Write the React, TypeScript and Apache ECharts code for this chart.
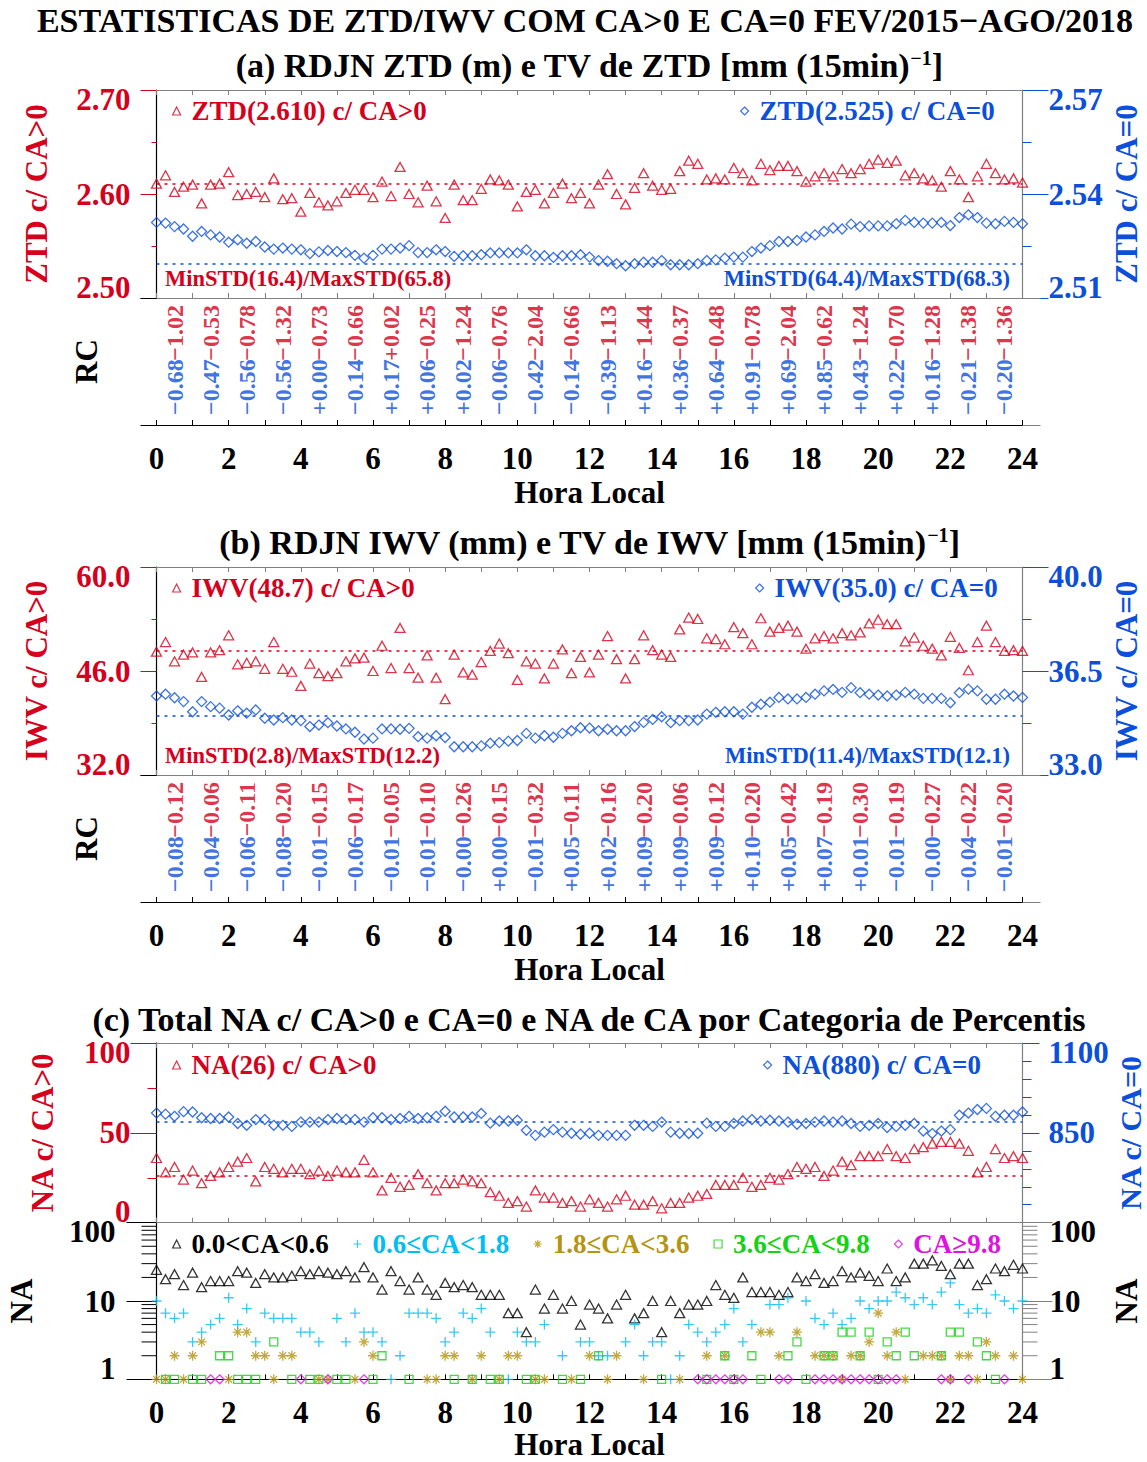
import React, { useEffect, useRef } from 'react';
import * as echarts from 'echarts';

const W = 1147;
const H = 1462;
const FONT = 'Liberation Serif';
const RED = '#d6001c';
const BLUE = '#0b4fdb';
const CYAN = '#00bdf2';
const OLIVE = '#b39510';
const GREEN = '#14d214';
const MAGENTA = '#e012e0';
const BLACK = '#000000';
const GRAY = '#808080';

// x positions: every 15 min from 0 to 24 h; RC values at the middle of each hour
const HOURS = Array.from({ length: 97 }, (_, i) => i / 4);
const RC_HOURS = Array.from({ length: 24 }, (_, i) => i + 0.5);
const LOG_MINOR_TICKS = [2, 3, 4, 5, 6, 7, 8, 9, 20, 30, 40, 50, 60, 70, 80, 90];

// ---------- (a) ZTD ----------
const ztdMeans = [2.610, 2.525];
const ztdStd = [[16.4, 65.8], [64.4, 68.3]];
const ztdGt = [
  2.610, 2.618, 2.602, 2.607, 2.609, 2.591, 2.609, 2.610,
  2.621, 2.599, 2.600, 2.602, 2.597, 2.615, 2.595, 2.596,
  2.583, 2.601, 2.592, 2.589, 2.593, 2.601, 2.604, 2.604,
  2.597, 2.612, 2.598, 2.626, 2.600, 2.592, 2.608, 2.593,
  2.577, 2.609, 2.594, 2.594, 2.605, 2.614, 2.613, 2.609,
  2.588, 2.602, 2.604, 2.591, 2.601, 2.610, 2.596, 2.601,
  2.591, 2.609, 2.619, 2.600, 2.590, 2.606, 2.620, 2.608,
  2.604, 2.605, 2.622, 2.632, 2.629, 2.614, 2.615, 2.614,
  2.625, 2.620, 2.613, 2.629, 2.623, 2.627, 2.627, 2.622,
  2.612, 2.617, 2.620, 2.617, 2.624, 2.620, 2.624, 2.629,
  2.633, 2.630, 2.632, 2.618, 2.620, 2.615, 2.613, 2.607,
  2.622, 2.614, 2.597, 2.617, 2.629, 2.620, 2.614, 2.615,
  2.611,
];
const ztdEq = [
  2.5318, 2.5316, 2.5306, 2.5299, 2.5278, 2.5292, 2.5282, 2.5276,
  2.5261, 2.5268, 2.5258, 2.5263, 2.5247, 2.5241, 2.5244, 2.5241,
  2.5239, 2.5228, 2.5233, 2.5237, 2.5234, 2.5231, 2.5223, 2.5215,
  2.5223, 2.5241, 2.5241, 2.5244, 2.5251, 2.5231, 2.5231, 2.5239,
  2.5234, 2.5220, 2.5222, 2.5222, 2.5225, 2.5230, 2.5230, 2.5230,
  2.5230, 2.5239, 2.5222, 2.5222, 2.5217, 2.5222, 2.5222, 2.5225,
  2.5218, 2.5208, 2.5206, 2.5199, 2.5193, 2.5199, 2.5203, 2.5203,
  2.5208, 2.5196, 2.5196, 2.5196, 2.5199, 2.5208, 2.5210, 2.5215,
  2.5218, 2.5218, 2.5234, 2.5244, 2.5251, 2.5263, 2.5263, 2.5266,
  2.5276, 2.5282, 2.5292, 2.5302, 2.5299, 2.5313, 2.5306, 2.5308,
  2.5308, 2.5308, 2.5314, 2.5324, 2.5318, 2.5316, 2.5316, 2.5318,
  2.5309, 2.5332, 2.5340, 2.5332, 2.5316, 2.5314, 2.5321, 2.5318,
  2.5314,
];
const rcZtdGt = [-1.02, -0.53, -0.78, -1.32, -0.73, -0.66, 0.02, -0.25, -1.24, -0.76, -2.04, -0.66,
  -1.13, -1.44, -0.37, -0.48, -0.78, -2.04, -0.62, -1.24, -0.70, -1.28, -1.38, -1.36];
const rcZtdEq = [-0.68, -0.47, -0.56, -0.56, 0.00, -0.14, 0.17, 0.06, 0.02, -0.06, -0.42, -0.14,
  -0.39, 0.16, 0.36, 0.64, 0.91, 0.69, 0.85, 0.43, 0.22, 0.16, -0.21, -0.20];

// ---------- (b) IWV ----------
const iwvMeans = [48.7, 35.0];
const iwvStd = [[2.8, 12.2], [11.4, 12.1]];
const iwvGt = [
  48.6, 49.9, 47.3, 48.2, 48.5, 45.2, 48.5, 48.8,
  50.8, 46.9, 47.1, 47.3, 46.3, 49.9, 46.3, 45.9,
  44.0, 47.0, 45.7, 45.3, 45.7, 47.3, 47.7, 47.8,
  46.0, 49.4, 46.4, 51.8, 46.4, 45.1, 48.1, 45.1,
  42.2, 48.2, 45.8, 45.5, 47.2, 48.7, 49.7, 48.4,
  44.8, 47.3, 47.0, 45.0, 47.0, 48.9, 45.7, 47.9,
  45.8, 48.2, 50.7, 47.6, 45.0, 47.6, 50.8, 48.8,
  48.2, 47.9, 51.6, 53.2, 53.0, 50.4, 50.3, 49.6,
  51.9, 51.1, 49.6, 53.1, 51.3, 51.8, 52.1, 51.3,
  49.0, 50.4, 50.7, 50.4, 51.1, 50.8, 51.2, 52.4,
  52.9, 52.3, 52.3, 50.0, 50.5, 49.4, 49.0, 48.1,
  50.6, 49.1, 46.1, 49.9, 52.1, 49.9, 48.7, 48.8,
  48.7,
];
const iwvEq = [
  35.66, 35.72, 35.60, 35.47, 35.13, 35.47, 35.30, 35.25,
  35.02, 35.16, 35.08, 35.19, 34.91, 34.85, 34.93, 34.85,
  34.83, 34.63, 34.68, 34.76, 34.65, 34.55, 34.44, 34.21,
  34.24, 34.55, 34.55, 34.54, 34.57, 34.29, 34.24, 34.32,
  34.26, 33.95, 33.95, 33.95, 33.98, 34.07, 34.09, 34.14,
  34.16, 34.40, 34.24, 34.32, 34.27, 34.40, 34.49, 34.59,
  34.58, 34.49, 34.54, 34.49, 34.49, 34.63, 34.77, 34.87,
  34.96, 34.76, 34.83, 34.83, 34.85, 35.05, 35.11, 35.13,
  35.13, 35.05, 35.28, 35.38, 35.45, 35.61, 35.56, 35.56,
  35.61, 35.72, 35.83, 35.88, 35.78, 35.94, 35.77, 35.72,
  35.69, 35.66, 35.69, 35.78, 35.72, 35.58, 35.58, 35.58,
  35.43, 35.77, 35.89, 35.83, 35.55, 35.55, 35.72, 35.66,
  35.61,
];
const rcIwvGt = [-0.12, -0.06, -0.11, -0.20, -0.15, -0.17, -0.05, -0.10, -0.26, -0.15, -0.32, -0.11,
  -0.16, -0.20, -0.06, -0.12, -0.20, -0.42, -0.19, -0.30, -0.19, -0.27, -0.22, -0.20];
const rcIwvEq = [-0.08, -0.04, -0.06, -0.08, -0.01, -0.06, -0.01, -0.01, -0.00, 0.00, -0.01, 0.05,
  0.02, 0.09, 0.09, 0.09, 0.10, 0.05, 0.07, 0.01, -0.01, -0.00, -0.04, -0.01];

// ---------- (c) NA ----------
const naMeans = [26, 880];
const naGt = [
  36, 28, 31, 24, 29, 22, 26, 28,
  31, 34, 36, 23, 31, 30, 28, 30,
  30, 27, 29, 26, 29, 28, 28, 35,
  28, 18, 25, 20, 21, 27, 22, 18,
  22, 22, 24, 23, 22, 17, 15, 11,
  12, 9, 18, 14, 14, 11, 12, 9,
  13, 11, 9, 13, 15, 10, 10, 12,
  8, 11, 11, 14, 15, 16, 21, 21,
  21, 25, 20, 21, 25, 24, 27, 31,
  30, 31, 26, 29, 34, 32, 37, 37,
  37, 41, 37, 36, 41, 42, 44, 45,
  45, 44, 40, 28, 31, 41, 36, 37,
  36,
];
const naEq = [
  905, 902, 896, 909, 908, 892, 890, 890,
  894, 876, 871, 887, 887, 871, 871, 868,
  880, 880, 880, 887, 890, 887, 887, 880,
  892, 892, 887, 890, 896, 890, 892, 896,
  910, 894, 894, 894, 904, 877, 883, 883,
  885, 857, 843, 852, 859, 852, 849, 846,
  849, 843, 843, 843, 843, 871, 871, 868,
  880, 852, 849, 848, 849, 877, 868, 868,
  876, 883, 887, 883, 885, 883, 880, 874,
  876, 880, 883, 880, 883, 876, 868, 871,
  876, 865, 868, 871, 876, 855, 848, 855,
  859, 899, 905, 915, 918, 896, 899, 899,
  908,
];
// NA per CA category (0 = none, not drawn on the log axis)
const cat1 = [
  25, 19, 22, 16, 23, 15, 18, 18,
  18, 24, 23, 17, 22, 20, 20, 21,
  24, 22, 24, 23, 22, 24, 20, 27,
  20, 14, 24, 18, 14, 20, 14, 12,
  17, 15, 16, 15, 12, 12, 12, 7,
  7, 4, 14, 8, 12, 8, 10, 5,
  9, 8, 6, 9, 12, 6, 7, 10,
  4, 10, 7, 9, 9, 10, 16, 12,
  11, 20, 13, 13, 13, 12, 13, 20,
  18, 22, 17, 18, 24, 20, 23, 21,
  18, 26, 18, 20, 30, 30, 33, 28,
  22, 30, 30, 16, 19, 26, 24, 29,
  26,
];
const cat2 = [
  10, 7, 6, 7, 3, 4, 5, 6,
  11, 5, 8, 3, 7, 6, 6, 6,
  4, 4, 3, 0, 6, 3, 7, 4,
  4, 3, 1, 2, 7, 7, 7, 6,
  3, 4, 7, 6, 8, 4, 0, 1,
  4, 3, 3, 5, 0, 2, 0, 3,
  3, 2, 2, 0, 3, 5, 2, 3,
  3, 1, 2, 5, 4, 3, 4, 5,
  8, 3, 5, 0, 9, 9, 11, 0,
  10, 6, 5, 7, 5, 6, 10, 8,
  10, 10, 13, 11, 9, 11, 9, 13,
  17, 9, 7, 8, 7, 12, 10, 8,
  10,
];
const cat3 = [
  1, 1, 2, 1, 2, 3, 0, 0,
  1, 4, 4, 2, 2, 1, 2, 2,
  0, 0, 1, 1, 0, 0, 1, 3,
  2, 0, 0, 0, 0, 0, 1, 1,
  2, 2, 0, 1, 2, 0, 1, 2,
  2, 0, 1, 1, 0, 0, 1, 0,
  2, 0, 1, 2, 0, 0, 1, 0,
  0, 0, 1, 0, 0, 2, 0, 2,
  0, 0, 0, 4, 4, 2, 0, 4,
  0, 2, 2, 2, 1, 2, 2, 3,
  7, 2, 4, 1, 0, 2, 2, 2,
  1, 2, 2, 1, 3, 2, 0, 2,
  1,
];
const cat4 = [
  0, 1, 1, 0, 1, 1, 0, 2,
  2, 1, 1, 1, 0, 3, 0, 1,
  0, 1, 1, 0, 1, 1, 0, 0,
  1, 2, 0, 0, 1, 0, 0, 0,
  0, 1, 0, 1, 0, 1, 1, 0,
  0, 1, 1, 0, 0, 1, 0, 1,
  0, 2, 0, 0, 0, 0, 0, 0,
  1, 0, 0, 0, 0, 1, 0, 2,
  1, 0, 2, 1, 0, 0, 2, 3,
  1, 0, 2, 2, 4, 4, 2, 4,
  1, 3, 2, 4, 2, 0, 0, 2,
  4, 4, 0, 3, 2, 1, 0, 0,
  0,
];
const cat5 = [
  0, 0, 0, 0, 0, 0, 1, 1,
  0, 0, 0, 0, 0, 0, 0, 0,
  1, 0, 0, 1, 0, 0, 0, 1,
  0, 0, 0, 0, 0, 0, 0, 0,
  0, 0, 0, 0, 0, 0, 0, 0,
  0, 0, 0, 0, 0, 0, 0, 0,
  0, 0, 0, 0, 0, 0, 0, 0,
  0, 0, 0, 0, 1, 1, 1, 1,
  1, 1, 0, 0, 0, 1, 1, 0,
  0, 1, 1, 1, 1, 1, 1, 1,
  1, 1, 1, 0, 0, 0, 0, 1,
  1, 0, 1, 0, 0, 0, 1, 0,
  0,
];
const catNames = ['0.0<CA<0.6', '0.6\u2264CA<1.8', '1.8\u2264CA<3.6', '3.6\u2264CA<9.8', 'CA\u22659.8'];

// ---------- helpers ----------
const PLUS = 'path://M5,0L5,10M0,5L10,5';
const STAR = 'path://M5,0L5,10M0,5L10,5M1.6,1.6L8.4,8.4M8.4,1.6L1.6,8.4';

const txt = (color: string, size: number) => ({
  color, fontFamily: FONT, fontWeight: 'bold' as const, fontSize: size,
});

const fmtRC = (v: number) => ((v < 0 || Object.is(v, -0)) ? '\u2212' : '+') + Math.abs(v).toFixed(2);

function edgeFmt(min: number, max: number, digits: number, hideMin = false) {
  return (v: number) => {
    const s = v.toFixed(digits);
    const eps = 1e-6 * Math.max(1, Math.abs(max));
    if (Math.abs(v - max) < eps) return `{mx|${s}}`;
    if (Math.abs(v - min) < eps) return hideMin ? '' : `{mn|${s}}`;
    return s;
  };
}

function valueY(o: any) {
  const t = txt(o.color, 31);
  return {
    type: o.log ? 'log' : 'value',
    gridIndex: o.grid,
    position: o.pos,
    min: o.min,
    max: o.max,
    ...(o.interval ? { interval: o.interval } : {}),
    axisLine: { show: true, onZero: false, lineStyle: { color: o.lineColor, width: 1.2 } },
    axisTick: { show: true, inside: false, length: o.tickLen, lineStyle: { color: o.tickColor || o.color, width: 1 } },
    minorTick: { show: !o.log, splitNumber: o.minorSplit || 2, length: o.minorLen, lineStyle: { color: o.tickColor || o.color, width: 1 } },
    splitLine: { show: false },
    minorSplitLine: { show: false },
    axisLabel: {
      ...t,
      margin: o.margin ?? 26,
      formatter: edgeFmt(o.min, o.max, o.digits, o.hideMin),
      rich: { mx: { ...t, padding: [18, 0, 0, 0] }, mn: { ...t, padding: [0, 0, 22, 0] } },
    },
    name: o.name,
    nameLocation: 'middle',
    nameRotate: 90,
    nameGap: o.nameGap,
    nameMoveOverlap: false,
    nameTextStyle: { ...txt(o.color, o.nameSize || 31), lineHeight: o.nameLH || 28 },
  };
}

function xAx(grid: number, pos: 'top' | 'bottom', labels: boolean, lineColor = GRAY, nameGap = 53, nameLH = 28) {
  return {
    type: 'value', gridIndex: grid, position: pos, min: 0, max: 24, interval: 2,
    axisLine: { show: true, onZero: false, lineStyle: { color: lineColor, width: 1.2 } },
    axisTick: { show: true, inside: true, length: 5, lineStyle: { color: lineColor } },
    minorTick: { show: true, splitNumber: 2, length: 5, lineStyle: { color: lineColor } },
    splitLine: { show: false },
    axisLabel: labels ? { show: true, ...txt(BLACK, 31), lineHeight: 34, margin: 16 } : { show: false },
    ...(labels ? { name: 'Hora Local', nameLocation: 'middle', nameGap, nameMoveOverlap: false, nameTextStyle: { ...txt(BLACK, 31), lineHeight: nameLH } } : {}),
  };
}

function rcY(grid: number, pos: 'left' | 'right') {
  const left = pos === 'left';
  return {
    type: 'category', gridIndex: grid, position: pos, data: ['CA=0', 'CA>0'], boundaryGap: false,
    axisLine: { show: false, onZero: false },
    axisTick: { show: true, interval: 0, inside: false, length: left ? 16 : 18, lineStyle: { color: left ? BLACK : GRAY } },
    axisLabel: { show: false }, splitLine: { show: false },
    ...(left ? { name: 'RC', nameLocation: 'middle', nameRotate: 90, nameGap: 56, nameMoveOverlap: false, nameTextStyle: { ...txt(BLACK, 31), lineHeight: 28 } } : {}),
  };
}

const hollow = (color: string, w = 1.3) => ({ color: 'transparent', borderColor: color, borderWidth: w });

function scatter(name: string, xi: number, yi: number, vals: number[], symbol: string, color: string, size: number | number[], mean?: number) {
  const s: any = {
    type: 'scatter', name, xAxisIndex: xi, yAxisIndex: yi, symbol, symbolSize: size, silent: true,
    itemStyle: hollow(color),
    data: HOURS.map((h, i) => [h, vals[i]]).filter((d) => d[1] > 0),
    z: 3,
  };
  if (mean !== undefined) {
    s.markLine = {
      silent: true, symbol: 'none', label: { show: false }, animation: false,
      lineStyle: { type: [3, 5], color, width: 1.5 },
      data: [{ yAxis: mean }],
    };
  }
  return s;
}

function rcSeries(name: string, xi: number, yi: number, vals: number[], color: string, row: 'CA>0' | 'CA=0') {
  const top = row === 'CA>0';
  return {
    type: 'scatter', name, xAxisIndex: xi, yAxisIndex: yi, symbolSize: 1, silent: true,
    itemStyle: { color: 'transparent' },
    data: RC_HOURS.map((h) => [h, row]),
    label: {
      show: true, position: 'inside', rotate: 90,
      align: top ? 'right' : 'left', verticalAlign: 'middle',
      padding: top ? [0, 7, 0, 0] : [0, 0, 0, 10],
      ...txt(color, 24),
      formatter: (p: any) => fmtRC(vals[p.dataIndex]),
    },
  };
}

function legend(left: number, top: number, items: { name: string; icon: string; color: string }[], itemGap = 10) {
  return {
    left, top, orient: 'horizontal', padding: 0, itemGap, itemWidth: 8, itemHeight: 8, selectedMode: false,
    textStyle: { ...txt(BLACK, 27), padding: [0, 0, 0, 6], lineHeight: 30 },
    data: items.map((it) => ({
      name: it.name, icon: it.icon, itemStyle: hollow(it.color, 1.2), textStyle: { color: it.color },
    })),
  };
}

function stdText(vals: number[], color: string, side: 'left' | 'right', top: number) {
  return {
    type: 'text', [side]: side === 'left' ? 165 : 137, top,
    style: { text: `MinSTD(${vals[0].toFixed(1)})/MaxSTD(${vals[1].toFixed(1)})`, fill: color, font: `bold 22.5px "${FONT}"` },
  };
}

function titleText(text: string, x: number, y: number, size = 34) {
  return {
    type: 'text', x, y,
    style: {
      text, align: 'center', verticalAlign: 'middle', fill: BLACK, font: `bold ${size}px "${FONT}"`,
      rich: { sup: { fontFamily: FONT, fontWeight: 'bold', fontSize: 20, verticalAlign: 'top', fill: BLACK } },
    },
  };
}

function buildOption() {
  const L = 156.5;
  const PW = 866;
  const nZtdGt = `ZTD(${ztdMeans[0].toFixed(3)}) c/ CA>0`;
  const nZtdEq = `ZTD(${ztdMeans[1].toFixed(3)}) c/ CA=0`;
  const nIwvGt = `IWV(${iwvMeans[0].toFixed(1)}) c/ CA>0`;
  const nIwvEq = `IWV(${iwvMeans[1].toFixed(1)}) c/ CA=0`;
  const nNaGt = `NA(${naMeans[0]}) c/ CA>0`;
  const nNaEq = `NA(${naMeans[1]}) c/ CA=0`;
  const g = (top: number, height: number) => ({ left: L, width: PW, top, height, containLabel: false, outerBoundsMode: 'none' });

  return {
    animation: false,
    textStyle: { fontFamily: FONT },
    grid: [
      g(90, 208),
      g(298, 127),
      g(567, 208),
      g(775, 127),
      g(1043, 179.7),
      g(1222.7, 156.6),
    ],
    xAxis: [
      xAx(0, 'bottom', false), // 0
      xAx(0, 'top', false), // 1
      xAx(1, 'bottom', true, BLACK), // 2
      xAx(2, 'bottom', false), // 3
      xAx(2, 'top', false), // 4
      xAx(3, 'bottom', true, BLACK), // 5
      xAx(4, 'bottom', false), // 6
      xAx(4, 'top', false), // 7
      xAx(5, 'bottom', true, BLACK, 52, 26), // 8
    ],
    yAxis: [
      valueY({ grid: 0, pos: 'left', min: 2.5, max: 2.7, interval: 0.1, color: RED, digits: 2, name: 'ZTD c/ CA>0', nameGap: 106, tickLen: 16, minorLen: 5, lineColor: BLACK }), // 0
      valueY({ grid: 0, pos: 'right', min: 2.51, max: 2.57, interval: 0.03, color: BLUE, digits: 2, name: 'ZTD c/ CA=0', nameGap: 90, tickLen: 26, minorLen: 9, lineColor: GRAY }), // 1
      rcY(1, 'left'), // 2
      valueY({ grid: 2, pos: 'left', min: 32, max: 60, interval: 14, color: RED, digits: 1, name: 'IWV c/ CA>0', nameGap: 106, tickLen: 16, minorLen: 5, lineColor: BLACK }), // 3
      valueY({ grid: 2, pos: 'right', min: 33, max: 40, interval: 3.5, color: BLUE, digits: 1, name: 'IWV c/ CA=0', nameGap: 90, tickLen: 26, minorLen: 9, lineColor: GRAY }), // 4
      rcY(3, 'left'), // 5
      valueY({ grid: 4, pos: 'left', min: 0, max: 100, interval: 50, color: RED, digits: 0, name: 'NA c/ CA>0', nameGap: 100, tickLen: 26, minorLen: 9, lineColor: BLACK }), // 6
      valueY({ grid: 4, pos: 'right', min: 600, max: 1100, interval: 250, color: BLUE, digits: 0, name: 'NA c/ CA=0', nameGap: 95, nameSize: 30, nameLH: 26, tickLen: 17, minorLen: 9, minorSplit: 5, lineColor: GRAY, hideMin: true }), // 7
      valueY({ grid: 5, pos: 'left', log: true, min: 1, max: 100, color: BLACK, digits: 0, name: 'NA', nameGap: 121, tickLen: 30, minorLen: 15, lineColor: BLACK, margin: 41 }), // 8
      valueY({ grid: 5, pos: 'right', log: true, min: 1, max: 100, color: BLACK, tickColor: GRAY, digits: 0, name: 'NA', nameGap: 90, tickLen: 30, minorLen: 15, lineColor: GRAY, margin: 27 }), // 9
      rcY(1, 'right'), // 10
      rcY(3, 'right'), // 11
    ],
    legend: [
      legend(172, 96, [{ name: nZtdGt, icon: 'triangle', color: RED }]),
      legend(740, 96, [{ name: nZtdEq, icon: 'diamond', color: BLUE }]),
      legend(172, 573, [{ name: nIwvGt, icon: 'triangle', color: RED }]),
      legend(755, 573, [{ name: nIwvEq, icon: 'diamond', color: BLUE }]),
      legend(172, 1050, [{ name: nNaGt, icon: 'triangle', color: RED }]),
      legend(763, 1050, [{ name: nNaEq, icon: 'diamond', color: BLUE }]),
      legend(172, 1229, [
        { name: catNames[0], icon: 'triangle', color: BLACK },
        { name: catNames[1], icon: PLUS, color: CYAN },
        { name: catNames[2], icon: STAR, color: OLIVE },
        { name: catNames[3], icon: 'rect', color: GREEN },
        { name: catNames[4], icon: 'diamond', color: MAGENTA },
      ], 24),
    ],
    graphic: [
      titleText('ESTATISTICAS DE ZTD/IWV COM CA>0 E CA=0 FEV/2015\u2212AGO/2018', 585, 20),
      titleText('(a) RDJN ZTD (m) e TV de ZTD [mm (15min){sup|\u22121}]', 589, 65),
      titleText('(b) RDJN IWV (mm) e TV de IWV [mm (15min){sup|\u22121}]', 589, 542),
      titleText('(c) Total NA c/ CA>0 e CA=0 e NA de CA por Categoria de Percentis', 589, 1019),
      stdText(ztdStd[0], RED, 'left', 267),
      stdText(ztdStd[1], BLUE, 'right', 267),
      stdText(iwvStd[0], RED, 'left', 744),
      stdText(iwvStd[1], BLUE, 'right', 744),
    ],
    series: [
      scatter(nZtdEq, 0, 1, ztdEq, 'diamond', BLUE, 10, ztdMeans[1]),
      scatter(nZtdGt, 0, 0, ztdGt, 'triangle', RED, [10, 9], ztdMeans[0]),
      rcSeries('RC ZTD CA>0', 2, 2, rcZtdGt, RED, 'CA>0'),
      rcSeries('RC ZTD CA=0', 2, 2, rcZtdEq, BLUE, 'CA=0'),
      scatter(nIwvEq, 3, 4, iwvEq, 'diamond', BLUE, 10, iwvMeans[1]),
      scatter(nIwvGt, 3, 3, iwvGt, 'triangle', RED, [10, 9], iwvMeans[0]),
      rcSeries('RC IWV CA>0', 5, 5, rcIwvGt, RED, 'CA>0'),
      rcSeries('RC IWV CA=0', 5, 5, rcIwvEq, BLUE, 'CA=0'),
      scatter(nNaEq, 6, 7, naEq, 'diamond', BLUE, 10, naMeans[1]),
      scatter(nNaGt, 6, 6, naGt, 'triangle', RED, [10, 9], naMeans[0]),
      scatter(catNames[0], 8, 8, cat1, 'triangle', BLACK, [10, 9]),
      scatter(catNames[1], 8, 8, cat2, PLUS, CYAN, 10),
      scatter(catNames[2], 8, 8, cat3, STAR, OLIVE, 10),
      scatter(catNames[3], 8, 8, cat4, 'rect', GREEN, 8),
      scatter(catNames[4], 8, 8, cat5, 'diamond', MAGENTA, 9),
      {
        type: 'custom', name: 'logMinorTicks', xAxisIndex: 8, yAxisIndex: 8, silent: true, clip: false, z: 1,
        data: LOG_MINOR_TICKS.map((v) => [0, v]),
        renderItem: (_p: any, api: any) => {
          const v = api.value(1);
          const a = api.coord([0, v]);
          const b = api.coord([24, v]);
          return {
            type: 'group',
            children: [
              { type: 'line', shape: { x1: a[0] - 15, y1: a[1], x2: a[0], y2: a[1] }, style: { stroke: BLACK, lineWidth: 1 } },
              { type: 'line', shape: { x1: b[0], y1: b[1], x2: b[0] + 15, y2: b[1] }, style: { stroke: GRAY, lineWidth: 1 } },
            ],
          };
        },
      },
    ],
  };
}

export default function App() {
  const ref = useRef<HTMLDivElement>(null);
  useEffect(() => {
    document.body.style.margin = '0';
    const chart = echarts.init(ref.current as HTMLDivElement, null, { renderer: 'svg' });
    chart.setOption(buildOption() as any);
    return () => chart.dispose();
  }, []);
  return <div ref={ref} style={{ width: W, height: H, background: '#fff' }} />;
}
